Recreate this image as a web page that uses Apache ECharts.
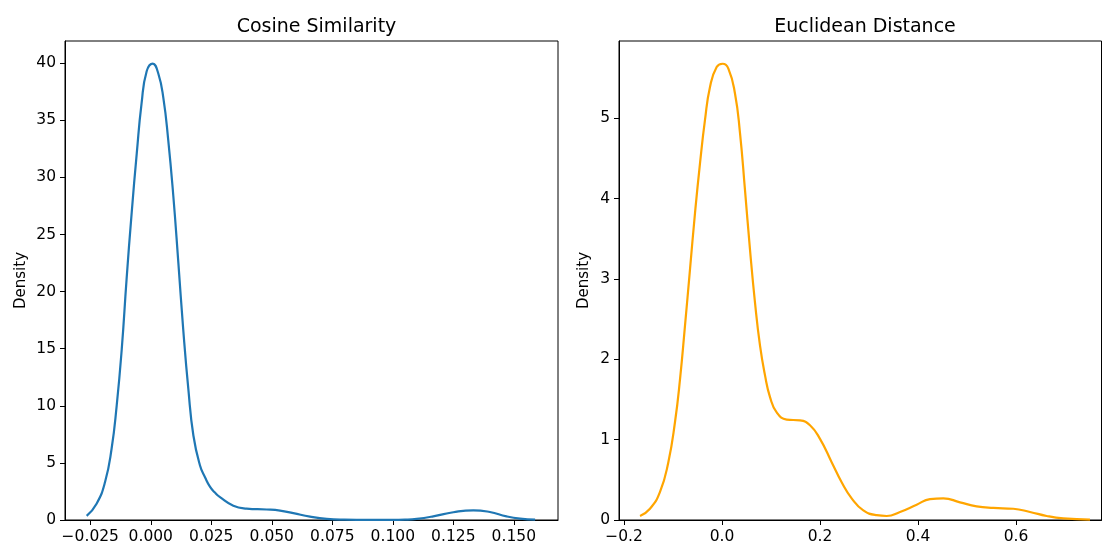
<!DOCTYPE html>
<html>
<head>
<meta charset="utf-8">
<script src="https://cdn.jsdelivr.net/npm/echarts@6/dist/echarts.min.js"></script>
<style>
  html, body { margin: 0; padding: 0; background: #fff; }
  #chart { width: 1103px; height: 545px; }
</style>
</head>
<body>
<div id="chart"></div>
<script>
// KDE curve of cosine similarity
const cosX = [-0.0265, -0.0224, -0.0189, -0.0162, -0.0141, -0.012, -0.01, -0.0079, -0.0058, -0.0038,
  -0.0017, 0.0008, 0.0031, 0.0052, 0.0072, 0.0093, 0.0114, 0.0134, 0.0155, 0.0176,
  0.0203, 0.0225, 0.0245, 0.0265, 0.0286, 0.0341, 0.0396, 0.0479, 0.0534, 0.0589, 0.0658, 0.0727,
  0.08, 0.09, 0.1, 0.105, 0.1099, 0.1167, 0.125, 0.1333, 0.1401, 0.147, 0.1526, 0.1588];
const cosY = [0.36, 1.43, 3.33, 6.24, 10.0, 14.97, 21.1, 26.9, 32.1, 36.5,
  39.3, 39.97, 39.1, 36.95, 33.3, 28.4, 22.5, 16.7, 11.5, 7.4,
  4.8, 3.7, 2.9, 2.4, 2.0, 1.25, 1.0, 0.92, 0.82, 0.6, 0.3, 0.1,
  0.03, 0.01, 0.01, 0.03, 0.1, 0.32, 0.68, 0.85, 0.7, 0.32, 0.12, 0.03];

// KDE curve of euclidean distance
const eucX = [-0.1673, -0.147, -0.1265, -0.1095, -0.0959, -0.0857, -0.0755, -0.0653, -0.0551, -0.0449,
  -0.0347, -0.0245, -0.0109, 0.0014, 0.013, 0.0265, 0.0367, 0.0469, 0.0571, 0.0673,
  0.0776, 0.0878, 0.098, 0.1116, 0.132, 0.1592, 0.1796, 0.2, 0.2238, 0.2442,
  0.2646, 0.2884, 0.3156, 0.3361, 0.3633, 0.3973, 0.4245, 0.4517, 0.4857, 0.5197,
  0.5537, 0.5945, 0.6286, 0.6626, 0.6966, 0.751];
const eucY = [0.05, 0.14, 0.35, 0.72, 1.22, 1.75, 2.42, 3.12, 3.82, 4.44,
  4.98, 5.39, 5.64, 5.68, 5.62, 5.31, 4.82, 4.11, 3.37, 2.71,
  2.17, 1.80, 1.53, 1.34, 1.25, 1.24, 1.18, 1.01, 0.72, 0.47,
  0.27, 0.12, 0.06, 0.05, 0.10, 0.19, 0.26, 0.27, 0.22, 0.17,
  0.15, 0.14, 0.10, 0.05, 0.02, 0.005];

const cosXTicks = [-0.025, 0, 0.025, 0.05, 0.075, 0.1, 0.125, 0.15];
const cosYTicks = [0, 5, 10, 15, 20, 25, 30, 35, 40];
const eucXTicks = [-0.2, 0, 0.2, 0.4, 0.6];
const eucYTicks = [0, 1, 2, 3, 4, 5];

const FONT = "DejaVu Sans";
const fmt = (digits) => (v) => (v < 0 ? "\u2212" : "") + Math.abs(v).toFixed(digits);

const axisCommon = {
  axisLine: { show: true, onZero: false, lineStyle: { color: "#000", width: 1 } },
  axisTick: { show: true, length: 5, inside: false, lineStyle: { color: "#000", width: 1 } },
  splitLine: { show: false },
  nameTextStyle: { color: "#000", fontFamily: FONT, fontSize: 15 },
};

const xAxis = (idx, min, max, ticks, digits) => ({
  ...axisCommon,
  type: "value",
  gridIndex: idx,
  min, max,
  axisTick: { ...axisCommon.axisTick, customValues: ticks },
  axisLabel: {
    customValues: ticks,
    margin: 9,
    color: "#000", fontFamily: FONT, fontSize: 15.5,
    formatter: fmt(digits),
  },
});

const yAxis = (idx, max, ticks, gap) => ({
  ...axisCommon,
  type: "value",
  gridIndex: idx,
  min: 0, max,
  name: "Density",
  nameLocation: "middle",
  nameGap: gap,
  nameRotate: 90,
  axisTick: { ...axisCommon.axisTick, customValues: ticks },
  axisLabel: {
    customValues: ticks,
    margin: 9,
    color: "#000", fontFamily: FONT, fontSize: 15.5,
    formatter: (v) => String(v),
  },
});

const chart = echarts.init(document.getElementById("chart"));
chart.setOption({
  animation: false,
  backgroundColor: "#fff",
  title: [
    { text: "Cosine Similarity", left: 311.5, top: 13, textAlign: "center",
      textStyle: { color: "#000", fontFamily: FONT, fontSize: 19, fontWeight: "normal" } },
    { text: "Euclidean Distance", left: 860, top: 13, textAlign: "center",
      textStyle: { color: "#000", fontFamily: FONT, fontSize: 19, fontWeight: "normal" } },
  ],
  grid: [
    { left: 65, right: 545, top: 41, bottom: 24, show: true, borderColor: "#000", borderWidth: 1, containLabel: false },
    { left: 619, right: 1.5, top: 41, bottom: 24, show: true, borderColor: "#000", borderWidth: 1, containLabel: false },
  ],
  xAxis: [
    xAxis(0, -0.03545, 0.16826, cosXTicks, 3),
    xAxis(1, -0.2102, 0.7745, eucXTicks, 1),
  ],
  yAxis: [
    yAxis(0, 41.95, cosYTicks, 36),
    yAxis(1, 5.963, eucYTicks, 27),
  ],
  series: [
    {
      type: "line", xAxisIndex: 0, yAxisIndex: 0,
      data: cosX.map((x, i) => [x, cosY[i]]),
      smooth: 0.5, showSymbol: false, clip: true,
      lineStyle: { color: "#1f77b4", width: 2.2 },
    },
    {
      type: "line", xAxisIndex: 1, yAxisIndex: 1,
      data: eucX.map((x, i) => [x, eucY[i]]),
      smooth: 0.5, showSymbol: false, clip: true,
      lineStyle: { color: "#ffa500", width: 2.2 },
    },
  ],
});
</script>
</body>
</html>
